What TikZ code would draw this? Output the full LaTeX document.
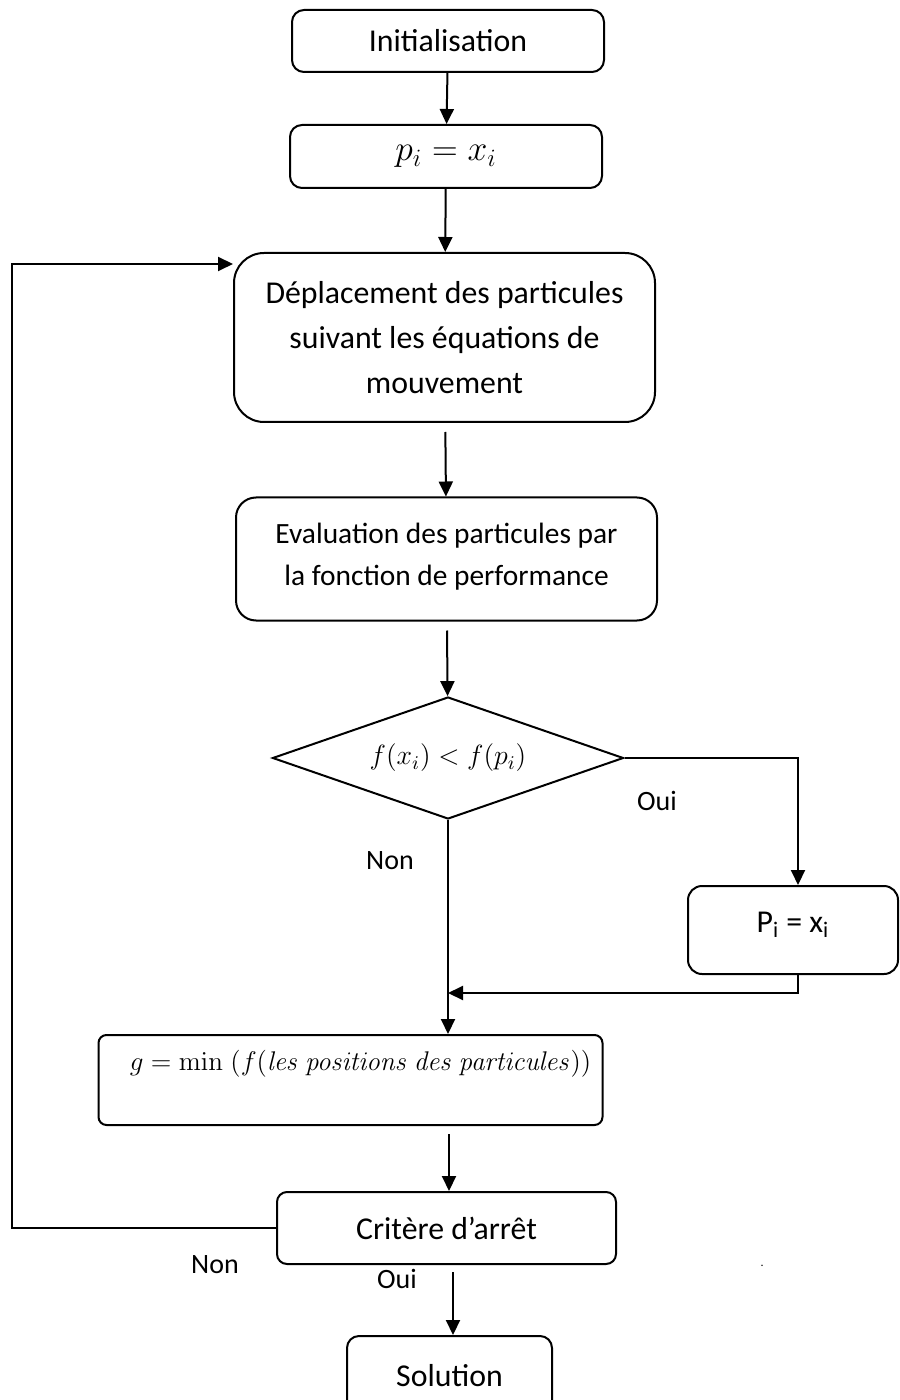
\RequirePackage{fix-cm}
\documentclass[tikz,border=0pt]{standalone}
\usepackage[no-math]{fontspec}
\setmainfont{Carlito}
\usetikzlibrary{arrows.meta,shapes.geometric}
% raise a box's content without changing the size the node sees
\newcommand\liftup[2]{\raisebox{#1}[\height][\depth]{#2}}
\begin{document}
\begin{tikzpicture}[x=0.5pt,y=-0.5pt,
  line width=1pt,
  box/.style={draw,rectangle,align=center,inner sep=0pt,font=\fontsize{15.9}{22.5}\selectfont},
  arr/.style={-{Triangle[length=7.5pt,width=7pt]}},
  lbl/.style={font=\fontsize{14}{16}\selectfont,inner sep=0pt}]
\clip (0,0) rectangle (899,1400);

% process steps
\node[box,rounded corners=6pt,minimum width=156pt,minimum height=31pt] (init) at (448,41) {Initialisation};
\node[box,rounded corners=6pt,minimum width=156pt,minimum height=31.5pt,
  font=\fontsize{17.8}{20}\selectfont] (pi) at (446,156.5) {$p_i = x_i$};
\node[box,rounded corners=15pt,minimum width=210.5pt,minimum height=84.5pt] (dep) at (444.5,337.5)
  {Déplacement des particules\\suivant les équations de\\mouvement};
\node[box,rounded corners=10pt,minimum width=210.5pt,minimum height=61.5pt,
  font=\fontsize{14.7}{20.8}\selectfont] (eval) at (446.5,559)
  {Evaluation des particules par\\la fonction de performance\\[-16pt]};
\node[draw,diamond,inner sep=0pt,aspect=2.88,minimum width=175.5pt,minimum height=61pt,
  font=\fontsize{13.9}{17}\selectfont] (cmp) at (448,758) {$f(x_i) < f(p_i)$};
\node[box,rounded corners=7pt,minimum width=105pt,minimum height=44pt] (upd) at (793,930)
  {\liftup{2.5pt}{P\textsubscript{i} = x\textsubscript{i}}};
\node[box,rounded corners=4pt,minimum width=252pt,minimum height=45pt,
  font=\fontsize{13.5}{20}\selectfont] (gbest) at (350.5,1080)
  {\hspace*{10pt}\liftup{8pt}{$g = \min\;\bigl(f(\mathit{les\ positions\ des\ particules})\bigr)$}};
\node[box,rounded corners=5pt,minimum width=169.5pt,minimum height=36pt] (crit) at (446.5,1228)
  {Critère d’arrêt};
\node[box,rounded corners=6pt,minimum width=102.5pt,minimum height=40pt,anchor=north] (sol) at (449.5,1335)
  {Solution};

% connectors
\draw[arr] (init) -- (pi);
\draw[arr] (pi) -- (dep);
\draw[arr,shorten <=4.5pt] (dep) -- (eval);
\draw[arr,shorten <=4.5pt] (eval) -- (cmp);
\draw[arr] (cmp.east) -| (upd.north -| 798,0);
\coordinate (join) at (448,993);
\draw[arr] (upd.south -| 798,0) |- (join);
\draw[arr] (cmp.south) -- (cmp.south |- gbest.north);
\draw[arr,shorten <=4pt] (gbest.south -| 449,0) -- (crit.north -| 449,0);
\draw[arr,shorten <=3.5pt] (crit.south -| 453,0) -- (sol.north -| 453,0);
\coordinate (loop) at (12,264);
\draw[arr] (crit.west) -- (crit.west -| loop) -- (loop) -- (loop -| dep.west);

% branch labels
\node[lbl] (oui1) at (657,801) {Oui};
\node[lbl] (non1) at (390,861) {Non};
\node[lbl] (non2) at (215,1265) {Non};
\node[lbl] (oui2) at (397,1279) {Oui};
\node[lbl,font=\fontsize{6}{6}\selectfont] (dot) at (762,1266) {.};
\end{tikzpicture}
\end{document}
